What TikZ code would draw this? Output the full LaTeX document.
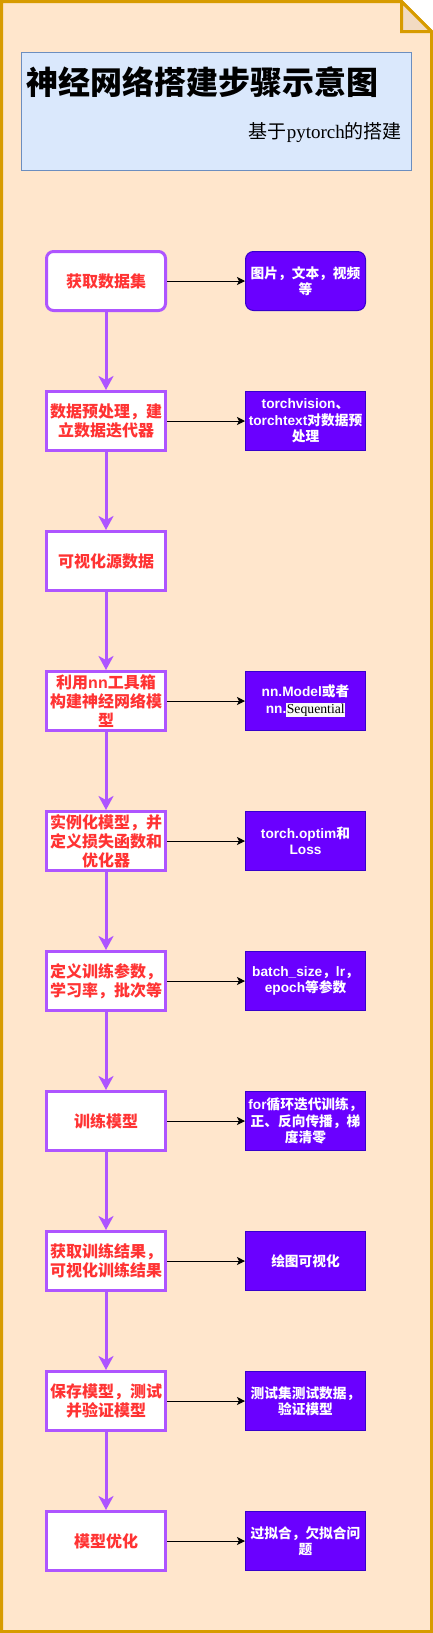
\documentclass[tikz,border=0pt]{standalone}
\usepackage{fontspec}
\usetikzlibrary{arrows.meta}
\newfontfamily\cjk{Noto Sans CJK SC}
\newfontfamily\latf{Liberation Sans}
\newfontfamily\serf{Liberation Serif}
\newcommand{\latn}[1]{{\latf\bfseries #1}}
\definecolor{notefill}{HTML}{FFE6CC}
\definecolor{notedraw}{HTML}{D79B00}
\definecolor{foldfill}{HTML}{F2DBC2}
\definecolor{titlefill}{HTML}{DAE8FC}
\definecolor{titledraw}{HTML}{6C8EBF}
\definecolor{purp}{HTML}{AE55FF}
\definecolor{redtxt}{HTML}{FF3333}
\definecolor{violetfill}{HTML}{6A00FF}
\definecolor{violetdraw}{HTML}{3700CC}
\definecolor{hilite}{HTML}{F8F8F8}
\begin{document}
\begin{tikzpicture}[x=1pt,y=-1pt,
  lbox/.style={draw=purp, line width=3, fill=white, minimum width=119, minimum height=59,
    inner sep=0, text=redtxt, align=center, font=\cjk\bfseries\fontsize{16}{19}\selectfont},
  rbox/.style={draw=violetdraw, line width=1, fill=violetfill, minimum width=120, minimum height=59,
    inner sep=0, text=white, align=center, font=\cjk\bfseries\fontsize{13.7}{16.5}\selectfont},
  varrow/.style={draw=purp, line width=3, -{Stealth[length=14pt,width=15pt,inset=4pt]}},
  harrow/.style={draw=black, line width=1, -{Stealth[length=8pt,width=8pt,inset=2pt]}}]
\useasboundingbox (0,0) rectangle (433,1633);
% note background
\path[fill=notefill, draw=notedraw, line width=3, line join=miter]
  (1.5,1.5) -- (401.5,1.5) -- (431.5,31.5) -- (431.5,1631.5) -- (1.5,1631.5) -- cycle;
\path[fill=foldfill, draw=notedraw, line width=3, line join=miter]
  (401.5,1.5) -- (401.5,31.5) -- (431.5,31.5) -- cycle;
% title box
\node[draw=titledraw, fill=titlefill, line width=1, minimum width=390, minimum height=118, inner sep=0] (tbox) at (216.5,111.5) {};
\node[anchor=base west, inner sep=0, font=\cjk\bfseries\fontsize{32}{36}\selectfont] (title) at (26,94) {神经网络搭建步骤示意图};
\node[anchor=base east, inner sep=0, font=\cjk\fontsize{19}{22}\selectfont] (subtitle) at (402,138) {基于{\serf pytorch}的搭建};
% left boxes
\node[lbox, rounded corners=7] (l1) at (106,281) {获取数据集};
\node[lbox] (l2) at (106,421) {数据预处理，建\\立数据迭代器};
\node[lbox] (l3) at (106,561) {可视化源数据};
\node[lbox] (l4) at (106,701) {利用\latn{nn}工具箱\\构建神经网络模\\型};
\node[lbox] (l5) at (106,841) {实例化模型，并\\定义损失函数和\\优化器};
\node[lbox] (l6) at (106,981) {定义训练参数，\\学习率，批次等};
\node[lbox] (l7) at (106,1121) {训练模型};
\node[lbox] (l8) at (106,1261) {获取训练结果，\\可视化训练结果};
\node[lbox] (l9) at (106,1401) {保存模型，测试\\并验证模型};
\node[lbox] (l10) at (106,1541) {模型优化};
% right boxes
\node[rbox, rounded corners=8] (r1) at (305.5,281) {图片，文本，视频\\等};
\node[rbox] (r2) at (305.5,421) {\latn{torchvision}、\\\latn{torchtext}对数据预\\处理};
\node[rbox] (r4) at (305.5,701) {\latn{nn.Model}或者\\\latn{nn.}{\setlength{\fboxsep}{0.5pt}\colorbox{hilite}{\color{black}\serf\mdseries Sequential}}};
\node[rbox] (r5) at (305.5,841) {\latn{torch.optim}和\\\latn{Loss}};
\node[rbox] (r6) at (305.5,981) {\latn{batch\_size}，\latn{lr}，\\\latn{epoch}等参数};
\node[rbox] (r7) at (305.5,1121) {\latn{for}循环迭代训练，\\正、反向传播，梯\\度清零};
\node[rbox] (r8) at (305.5,1261) {绘图可视化};
\node[rbox] (r9) at (305.5,1401) {测试集测试数据，\\验证模型};
\node[rbox] (r10) at (305.5,1541) {过拟合，欠拟合问\\题};
% vertical arrows
\foreach \a/\b in {l1/l2,l2/l3,l3/l4,l4/l5,l5/l6,l6/l7,l7/l8,l8/l9,l9/l10}
  \draw[varrow] (\a.south) -- (\b.north);
% horizontal arrows
\foreach \a/\b in {l1/r1,l2/r2,l4/r4,l5/r5,l6/r6,l7/r7,l8/r8,l9/r9,l10/r10}
  \draw[harrow] (\a.east) -- (\b.west);
\end{tikzpicture}
\end{document}
